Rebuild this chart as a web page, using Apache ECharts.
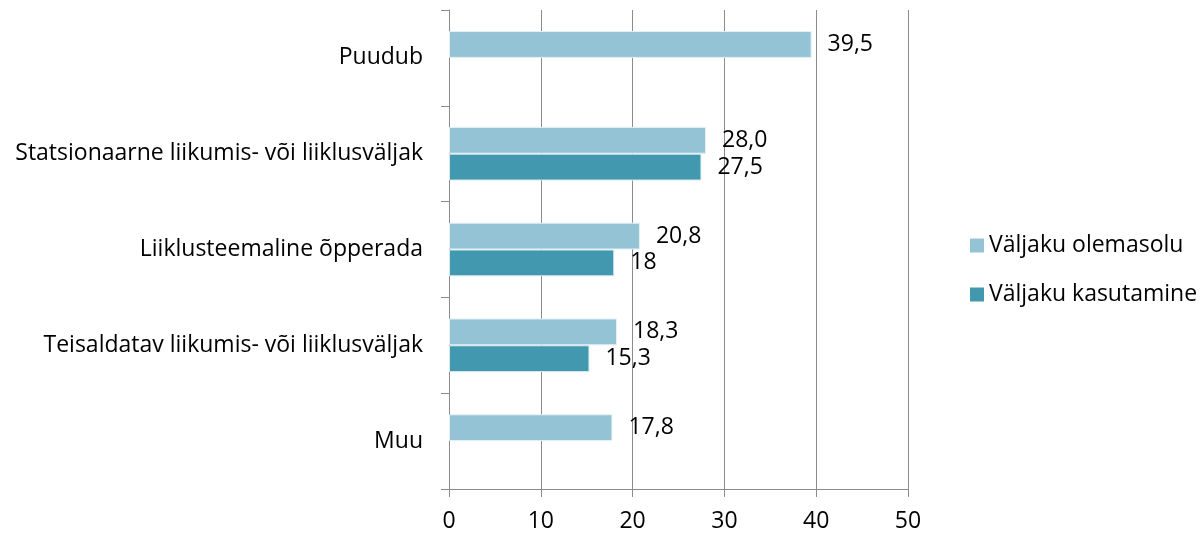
<!doctype html>
<html>
    <head>
        <meta charset="utf-8">
        <title>Väljakud</title>
        <style>
            html, body { margin: 0; padding: 0; background: #fff; }
            #main { width: 1203px; height: 540px; }
        </style>
    </head>
    <body>
        <div id="main"></div>
        <script src="https://cdn.jsdelivr.net/npm/echarts@6/dist/echarts.min.js"></script>
        <script>
            var categories = [
                'Puudub',
                'Statsionaarne liikumis- või liiklusväljak',
                'Liiklusteemaline õpperada',
                'Teisaldatav liikumis- või liiklusväljak',
                'Muu'
            ];
            var seriesNames = ['Väljaku olemasolu', 'Väljaku kasutamine'];
            var olemasolu = [39.5, 28.0, 20.8, 18.3, 17.8];
            var kasutamine = [null, 27.5, 18, 15.3, null];
            var xTicks = [0, 10, 20, 30, 40, 50];

            var font = '"Open Sans", "Noto Sans", sans-serif';
            var fontSize = 23;
            var axisColor = '#8c8c8c';

            var chart = echarts.init(document.getElementById('main'), null, {
                devicePixelRatio: 1
            });

            function labelFor(fixed) {
                return {
                    show: true,
                    position: 'right',
                    distance: 16,
                    color: '#000',
                    fontFamily: font,
                    fontSize: fontSize,
                    formatter: function (p) {
                        var v = p.value;
                        var s = fixed ? v.toFixed(1) : String(v);
                        return s.replace('.', ',');
                    }
                };
            }

            chart.setOption({
                animation: false,
                backgroundColor: '#fff',
                textStyle: { fontFamily: font },
                grid: {
                    left: 449,
                    right: 295,
                    top: 10,
                    bottom: 51,
                    containLabel: false
                },
                legend: {
                    orient: 'vertical',
                    left: 965,
                    top: 229,
                    itemWidth: 14,
                    itemHeight: 14,
                    itemGap: 26,
                    icon: 'rect',
                    itemStyle: { borderWidth: 0 },
                    textStyle: { fontSize: fontSize, color: '#000', fontFamily: font },
                    data: seriesNames
                },
                xAxis: {
                    type: 'value',
                    min: xTicks[0],
                    max: xTicks[xTicks.length - 1],
                    interval: 10,
                    axisLine: { show: true, lineStyle: { color: axisColor, width: 1 } },
                    axisTick: { show: true, length: 8, lineStyle: { color: axisColor } },
                    axisLabel: { color: '#000', fontSize: fontSize, margin: 21, fontFamily: font },
                    splitLine: { show: true, lineStyle: { color: axisColor, width: 1 } }
                },
                yAxis: {
                    type: 'category',
                    inverse: true,
                    data: categories,
                    axisLine: { show: true, lineStyle: { color: axisColor, width: 1 } },
                    axisTick: { show: true, length: 8, lineStyle: { color: axisColor } },
                    axisLabel: { color: '#000', fontSize: fontSize, margin: 26, fontFamily: font }
                },
                series: [{
                    name: seriesNames[0],
                    type: 'bar',
                    data: olemasolu,
                    barGap: '0%',
                    barCategoryGap: '44%',
                    itemStyle: { color: '#93c3d4', borderColor: '#e4f0f4', borderWidth: 1 },
                    label: labelFor(true)
                }, {
                    name: seriesNames[1],
                    type: 'bar',
                    data: kasutamine,
                    barGap: '0%',
                    barCategoryGap: '44%',
                    itemStyle: { color: '#4198af', borderColor: '#d6ebf0', borderWidth: 1 },
                    label: labelFor(false)
                }]
            });

            window.onresize = chart.resize;
        </script>
    </body>
</html>
